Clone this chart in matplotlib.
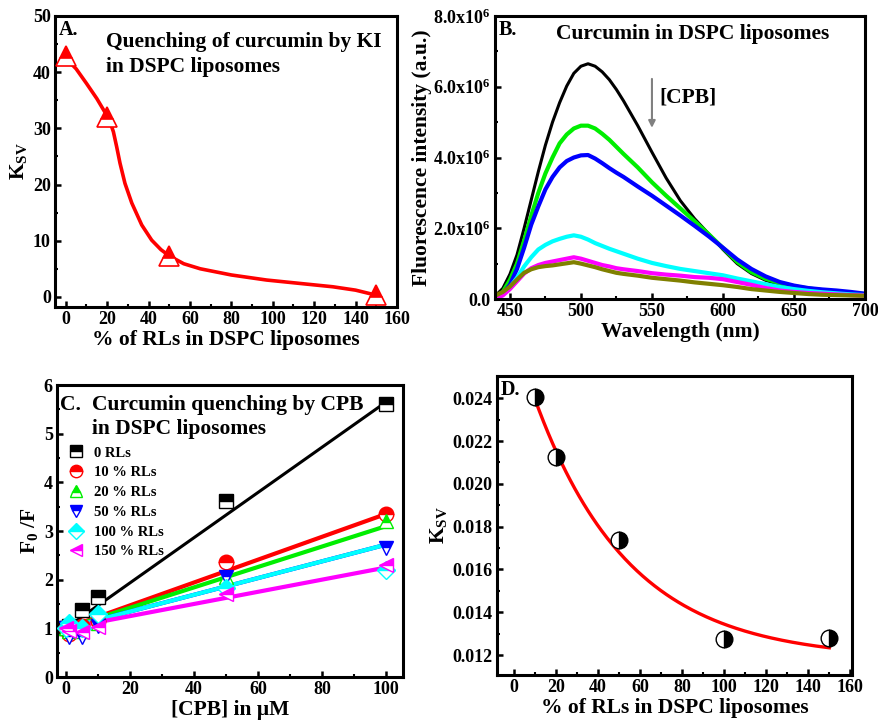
import numpy as np
import matplotlib
matplotlib.use('Agg')
import matplotlib.pyplot as plt
from matplotlib.ticker import MultipleLocator, FuncFormatter
from matplotlib.lines import Line2D

plt.rcParams.update({
    'font.family': ['Liberation Serif', 'DejaVu Serif'],
    'font.weight': 'bold',
    'axes.labelweight': 'bold',
    'mathtext.fontset': 'custom',
    'mathtext.rm': 'Liberation Serif:bold',
    'mathtext.it': 'Liberation Serif:bold',
    'mathtext.bf': 'Liberation Serif:bold',
    'axes.linewidth': 2.2,
})

# ---------------- Panel A data ----------------
rl_pct_A = [0, 20, 50, 150]
ksv_A = [42.8, 32.1, 7.3, 0.4]
curveA_x = [0, 5, 10, 15, 20, 21.5, 23, 24.6, 26.2, 28.6, 31.9, 36.7, 41.5, 46, 50,
            57, 65, 80, 97, 113, 129, 140, 150]
curveA_y = [42.5, 40.6, 38.0, 35.3, 32.2, 31.0, 29.4, 26.7, 23.8, 20.2, 16.7, 12.8,
            10.1, 8.4, 7.3, 5.9, 5.0, 3.9, 3.0, 2.4, 1.8, 1.2, 0.3]

# ---------------- Panel B data (x1e6) ----------------
wavelength = [440, 445, 450, 455, 460, 465, 470, 475, 480, 485, 490, 495, 500, 505, 510,
              515, 520, 525, 530, 540, 550, 560, 570, 580, 590, 600, 610, 620, 630, 640,
              650, 660, 670, 680, 690, 700]
spec_black = [0.1, 0.3, 0.7, 1.25, 2.0, 2.8, 3.6, 4.35, 5.0, 5.55, 6.02, 6.38, 6.58, 6.65,
              6.58, 6.42, 6.2, 5.92, 5.6, 4.9, 4.15, 3.42, 2.78, 2.27, 1.84, 1.4, 1.0, 0.72,
              0.53, 0.4, 0.32, 0.28, 0.24, 0.2, 0.17, 0.14]
spec_green = [0.05, 0.2, 0.54, 1.0, 1.65, 2.35, 3.0, 3.55, 4.0, 4.4, 4.65, 4.82, 4.9, 4.9,
              4.82, 4.67, 4.5, 4.3, 4.1, 3.72, 3.3, 2.92, 2.56, 2.2, 1.83, 1.44, 1.05, 0.76,
              0.57, 0.45, 0.36, 0.3, 0.25, 0.21, 0.17, 0.14]
spec_blue = [0.05, 0.15, 0.4, 0.85, 1.45, 2.1, 2.62, 3.1, 3.45, 3.72, 3.9, 4.0, 4.06, 4.07,
             3.97, 3.84, 3.7, 3.57, 3.45, 3.18, 2.92, 2.64, 2.36, 2.07, 1.77, 1.45, 1.12, 0.85,
             0.64, 0.48, 0.38, 0.31, 0.27, 0.24, 0.2, 0.15]
spec_cyan = [0.03, 0.12, 0.33, 0.6, 0.92, 1.18, 1.4, 1.53, 1.63, 1.7, 1.76, 1.8, 1.76, 1.68,
             1.58, 1.5, 1.42, 1.35, 1.28, 1.14, 1.02, 0.93, 0.85, 0.79, 0.73, 0.67, 0.58,
             0.5, 0.42, 0.34, 0.28, 0.23, 0.19, 0.16, 0.13, 0.11]
spec_magenta = [0.02, 0.1, 0.28, 0.5, 0.72, 0.87, 0.96, 1.02, 1.06, 1.1, 1.14, 1.18, 1.14,
                1.08, 1.02, 0.96, 0.92, 0.87, 0.84, 0.79, 0.73, 0.69, 0.66, 0.62, 0.6, 0.56,
                0.48, 0.4, 0.31, 0.24, 0.2, 0.17, 0.15, 0.13, 0.11, 0.1]
spec_olive = [0.1, 0.2, 0.35, 0.55, 0.74, 0.84, 0.9, 0.93, 0.95, 0.98, 1.01, 1.04, 1.0, 0.95,
              0.9, 0.84, 0.79, 0.74, 0.71, 0.66, 0.6, 0.56, 0.52, 0.47, 0.43, 0.39, 0.34,
              0.28, 0.24, 0.2, 0.17, 0.14, 0.12, 0.11, 0.1, 0.09]

# ---------------- Panel C data ----------------
cpb_conc = [0, 1, 5, 10, 50, 100]
c_labels = ['0 RLs', '10 % RLs', '20 % RLs', '50 % RLs', '100 % RLs', '150 % RLs']
f0f_0 = [1.0, 1.05, 1.38, 1.65, 3.62, 5.6]
f0f_10 = [1.0, 0.88, 1.05, 1.15, 2.37, 3.35]
f0f_20 = [1.0, 0.95, 0.95, 1.1, 2.05, 3.2]
f0f_50 = [1.0, 0.82, 0.83, 1.05, 2.05, 2.65]
f0f_100 = [1.0, 1.1, 1.0, 1.3, 1.82, 2.2]
f0f_150 = [1.0, 0.95, 0.92, 1.02, 1.7, 2.3]
c_slopes = [0.0465, 0.0235, 0.021, 0.0172, 0.0172, 0.0125]

# ---------------- Panel D data ----------------
rl_pct_D = [10, 20, 50, 100, 150]
ksv_D = [0.02408, 0.02124, 0.01738, 0.01274, 0.01278]
fitD_y0, fitD_A, fitD_t = 0.0118, 0.0152, 45.0

W, H = 879, 722
fig = plt.figure(figsize=(W / 100, H / 100), dpi=100)

def box(l, r, t, b):
    return [l / W, (H - b) / H, (r - l) / W, (b - t) / H]

TICK = 13
LAB = 15.5
TITLE = 15.5

def style(ax):
    ax.tick_params(which='both', direction='in', top=False, right=False, labelsize=TICK)
    ax.tick_params(which='major', length=4.5, width=1.8, pad=3)
    ax.tick_params(which='minor', length=2.5, width=1.5)
    for lab in ax.get_xticklabels() + ax.get_yticklabels():
        lab.set_fontweight('bold')

# ---- A ----
axA = fig.add_axes(box(55, 397, 16, 307))
axA.plot(curveA_x, curveA_y, color='red', lw=2.6, zorder=2)
axA.plot(rl_pct_A, ksv_A, ls='none', marker='^', ms=14, color='red', fillstyle='top',
         markerfacecoloralt='white', mec='red', mew=1.2, zorder=3)
axA.set_xlim(-5.2, 160)
axA.set_ylim(-1.8, 50)
axA.xaxis.set_major_locator(MultipleLocator(20))
axA.xaxis.set_minor_locator(MultipleLocator(10))
axA.yaxis.set_major_locator(MultipleLocator(10))
axA.yaxis.set_minor_locator(MultipleLocator(5))
axA.set_xlabel('% of RLs in DSPC liposomes', fontsize=LAB, labelpad=1)
axA.set_ylabel(r'K$_{SV}$', fontsize=LAB, labelpad=3)
axA.text(0.01, 0.985, 'A.', transform=axA.transAxes, fontsize=14.5, va='top', ha='left')
axA.text(0.15, 0.945, 'Quenching of curcumin by KI\nin DSPC liposomes', transform=axA.transAxes,
         fontsize=TITLE, va='top', ha='left', linespacing=1.3)
style(axA)

# ---- B ----
axB = fig.add_axes(box(495, 865, 16, 299))
spectra = [spec_black, spec_green, spec_blue, spec_cyan, spec_magenta, spec_olive]
spec_colors = ['black', '#00ee00', '#0000ff', '#00ffff', '#ff00ff', '#808000']
spec_lw = [2.2, 3.0, 3.0, 3.0, 3.0, 3.0]
for s, c, lw in zip(spectra, spec_colors, spec_lw):
    axB.plot(wavelength, np.array(s) * 1e6, color=c, lw=lw)
axB.set_xlim(439.5, 700)
axB.set_ylim(0, 8e6)
axB.xaxis.set_major_locator(MultipleLocator(50))
axB.xaxis.set_minor_locator(MultipleLocator(25))
axB.yaxis.set_major_locator(MultipleLocator(2e6))
axB.yaxis.set_minor_locator(MultipleLocator(1e6))
axB.yaxis.set_major_formatter(FuncFormatter(
    lambda v, p: '0.0' if v == 0 else '%.1fx10$^{6}$' % (v / 1e6)))
axB.set_xlabel('Wavelength (nm)', fontsize=LAB, labelpad=1)
axB.set_ylabel('Fluorescence intensity (a.u.)', fontsize=LAB, labelpad=1)
axB.annotate('', xy=(550, 4.76e6), xytext=(550, 6.3e6),
             arrowprops=dict(arrowstyle='-|>', color='#808080', lw=1.5, mutation_scale=10))
axB.text(555, 5.7e6, '[CPB]', fontsize=TITLE, va='center', ha='left')
axB.text(0.01, 0.985, 'B.', transform=axB.transAxes, fontsize=14.5, va='top', ha='left')
axB.text(0.535, 0.935, 'Curcumin in DSPC liposomes', transform=axB.transAxes,
         fontsize=TITLE, va='center', ha='center')
style(axB)

# ---- C ----
axC = fig.add_axes(box(57, 403, 385, 677))
series = [f0f_0, f0f_10, f0f_20, f0f_50, f0f_100, f0f_150]
c_colors = ['black', 'red', '#00ee00', '#0000ff', '#00ffff', '#ff00ff']
c_markers = ['s', 'o', '^', 'v', 'D', '<']
c_ms = [9.5, 10.5, 10.5, 10.5, 9, 10.5]
c_lw = [2.2, 3.0, 3.0, 3.0, 3.0, 3.0]
xfit = np.array([0, 100])
handles = []
for ys, col, mk, ms, lw, k, lab in zip(series, c_colors, c_markers, c_ms, c_lw, c_slopes, c_labels):
    axC.plot(xfit, 1 + k * xfit, color=col, lw=lw, zorder=2)
    axC.plot(cpb_conc, ys, ls='none', marker=mk, ms=ms, color=col, fillstyle='top',
             markerfacecoloralt='white', mec=col, mew=1.0, zorder=3)
    handles.append(Line2D([], [], ls='none', marker=mk, ms=ms * 0.85, color=col, fillstyle='top',
                          markerfacecoloralt='white', mec=col, mew=1.0, label=lab))
axC.set_xlim(-2.7, 105.3)
axC.set_ylim(0, 6)
axC.xaxis.set_major_locator(MultipleLocator(20))
axC.xaxis.set_minor_locator(MultipleLocator(10))
axC.yaxis.set_major_locator(MultipleLocator(1))
axC.yaxis.set_minor_locator(MultipleLocator(0.5))
axC.set_xlabel('[CPB] in \u03bcM', fontsize=LAB, labelpad=1)
axC.set_ylabel(r'F$_{0}$ /F', fontsize=LAB, labelpad=3)
axC.text(0.01, 0.965, 'C.', transform=axC.transAxes, fontsize=TITLE, va='top', ha='left')
axC.text(0.1, 0.965, 'Curcumin quenching by CPB\nin DSPC liposomes', transform=axC.transAxes,
         fontsize=TITLE, va='top', ha='left', linespacing=1.25)
leg = axC.legend(handles=handles, loc='upper left', bbox_to_anchor=(0.035, 0.79),
                 frameon=False, fontsize=10.5, handlelength=1.0, handletextpad=0.7,
                 labelspacing=0.45, borderpad=0, borderaxespad=0)
for t in leg.get_texts():
    t.set_fontweight('bold')
style(axC)

# ---- D ----
axD = fig.add_axes(box(497, 852, 376, 675))
xd = np.linspace(min(rl_pct_D), max(rl_pct_D), 200)
axD.plot(xd, fitD_y0 + fitD_A * np.exp(-xd / fitD_t), color='red', lw=2.4, zorder=2)
axD.plot(rl_pct_D, ksv_D, ls='none', marker='o', ms=12, color='black', fillstyle='right',
         markerfacecoloralt='white', mec='black', mew=1.0, zorder=3)
axD.set_xlim(-8, 160.8)
axD.set_ylim(0.01107, 0.02504)
axD.xaxis.set_major_locator(MultipleLocator(20))
axD.xaxis.set_minor_locator(MultipleLocator(10))
axD.yaxis.set_major_locator(MultipleLocator(0.002))
axD.yaxis.set_minor_locator(MultipleLocator(0.001))
axD.yaxis.set_major_formatter(FuncFormatter(lambda v, p: '%.3f' % v))
axD.set_xlabel('% of RLs in DSPC liposomes', fontsize=LAB, labelpad=1)
axD.set_ylabel(r'K$_{SV}$', fontsize=LAB, labelpad=3)
axD.text(0.01, 0.985, 'D.', transform=axD.transAxes, fontsize=14.5, va='top', ha='left')
style(axD)

fig.savefig('out.png', dpi=100)
